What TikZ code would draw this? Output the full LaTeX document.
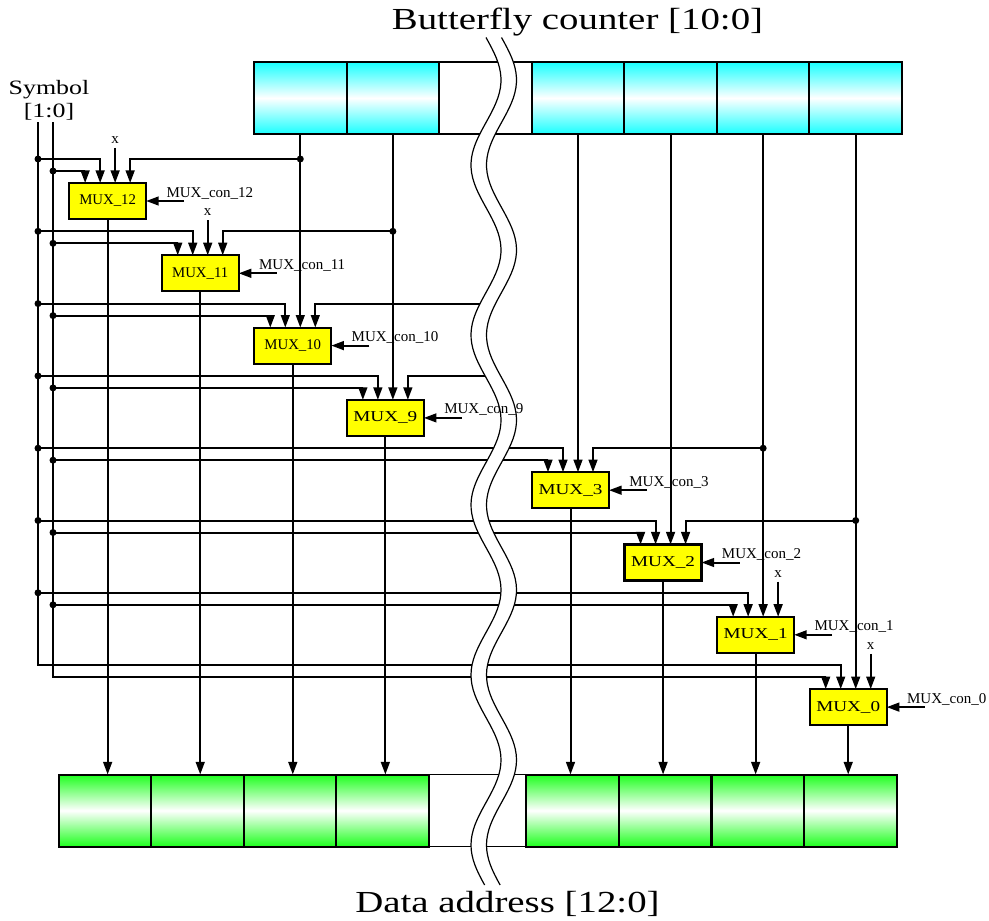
\documentclass[tikz,border=0pt]{standalone}
\usepackage{fontspec}
\setmainfont{Liberation Serif}
\newfontfamily\wideserif[FakeStretch=1.27]{Liberation Serif}
\usetikzlibrary{arrows.meta, calc}
\definecolor{regcyan}{RGB}{25,255,255}
\definecolor{reggreen}{RGB}{30,255,30}
\definecolor{muxyellow}{RGB}{255,255,0}
\tikzset{
  wire/.style={line width=1pt},
  sig/.style={wire, -{Triangle[length=6.3pt, width=4.4pt]}},
  bitcell/.style={draw, line width=1pt, minimum width=46.3pt, minimum height=36pt, inner sep=0pt, outer sep=0pt},
  cyancell/.style={bitcell, top color=regcyan, bottom color=regcyan, middle color=white},
  greencell/.style={bitcell, top color=reggreen, bottom color=reggreen, middle color=white},
  gapcell/.style={bitcell, line width=0.7pt},
  muxbox/.style={draw, line width=1.1pt, fill=muxyellow, minimum width=38.5pt, minimum height=18pt, inner sep=0pt, outer sep=0pt},
  muxsmall/.style={font=\fontsize{7.4}{9}\selectfont},
  muxwide/.style={font=\wideserif\fontsize{7.55}{9}\selectfont},
  conlabel/.style={font=\fontsize{7.5}{9}\selectfont, inner sep=0pt, anchor=base west},
  xlabel/.style={font=\fontsize{7.5}{9}\selectfont, inner sep=2pt},
  regtitle/.style={font=\wideserif\fontsize{15.3}{18}\selectfont, inner sep=0pt, anchor=base},
  breakline/.style={line width=0.6pt},
}

\begin{document}
\begin{tikzpicture}[x=0.5pt, y=-0.5pt]
  \useasboundingbox (0,0) rectangle (989,920);

  % registers
  \foreach \i/\s in {1/cyancell, 2/cyancell, 3/gapcell, 4/cyancell, 5/cyancell, 6/cyancell, 7/cyancell}
    \node[\s] (bc\i) at ({254+92.57*(\i-0.5)}, 98) {};
  \foreach \i/\cx/\s in {1/105.25/greencell, 2/197.75/greencell, 3/290.25/greencell, 4/382.75/greencell,
                         6/572.4/greencell, 7/665.1/greencell, 8/757.9/greencell, 9/850.6/greencell}
    \node[\s] (da\i) at (\cx, 810.5) {};
  \node[gapcell, minimum width=48.5pt] (da5) at (477.5, 810.5) {};

  \node[regtitle] (bctitle) at (577.5, 30) {Butterfly counter [10:0]};
  \node[regtitle] (datitle) at (507.5, 912) {Data address [12:0]};

  \node[font=\wideserif\fontsize{10.2}{11.5}\selectfont, align=center, inner sep=0pt, anchor=north]
    (sym) at (49, 80) {Symbol\\{}[1:0]};
  \coordinate (symA) at (38, 122);
  \coordinate (symB) at (53, 122);

  % multiplexers
  \foreach \n/\k/\r/\f/\d in {12/-1/0/muxsmall/1, 11/0/1/muxsmall/2, 10/1/2/muxsmall/3, 9/2/3/muxwide/4,
                              3/4/4/muxwide/6, 2/5/5/muxwide/7, 1/6/6/muxwide/8, 0/7/7/muxwide/9} {
    \pgfmathsetmacro{\cx}{254+92.57*(\k-0.5)-7.5}
    \pgfmathsetmacro{\cy}{201+72.3*\r}
    \node[muxbox, \f] (mux\n) at (\cx, \cy) {MUX\_\n};
    \coordinate (mux\n-a) at ($(mux\n.north)+(-22.5,0)$);
    \coordinate (mux\n-b) at ($(mux\n.north)+(-7.5,0)$);
    \coordinate (mux\n-c) at ($(mux\n.north)+(7.5,0)$);
    \coordinate (mux\n-d) at ($(mux\n.north)+(22.5,0)$);
    \coordinate (jA\n) at (38, \cy-42);
    \coordinate (jB\n) at (53, \cy-30);
    \ifnum\n>0
      \draw[sig] (jA\n) -| (mux\n-b);
      \draw[sig] (jB\n) -| (mux\n-a);
      \fill (jA\n) circle[radius=1.75pt];
      \fill (jB\n) circle[radius=1.75pt];
    \fi
    \coordinate (con\n) at ($(mux\n.east)+(38,0)$);
    \draw[sig] (con\n) -- (mux\n.east);
    \draw[sig] (mux\n.south) -- (mux\n.south |- da\d.north);
  }
  \draw[sig] (symA) -- (jA0) -| (mux0-b);
  \draw[sig] (symB) -- (jB0) -| (mux0-a);

  % counter bits
  \draw[sig] (bc1.south) -- (mux10-c);
  \draw[sig] (bc2.south) -- (mux9-c);
  \draw[sig] (bc4.south) -- (mux3-c);
  \draw[sig] (bc5.south) -- (mux2-c);
  \draw[sig] (bc6.south) -- (mux1-c);
  \draw[sig] (bc7.south) -- (mux0-c);
  \coordinate (tap12) at (bc1.south |- jA12);
  \coordinate (tap11) at (bc2.south |- jA11);
  \coordinate (tap3) at (bc6.south |- jA3);
  \coordinate (tap2) at (bc7.south |- jA2);
  \foreach \n in {12, 11, 3, 2} {
    \draw[sig] (tap\n) -| (mux\n-d);
    \fill (tap\n) circle[radius=1.75pt];
  }
  \foreach \n/\r in {10/2, 9/3} {
    \pgfmathsetmacro{\wy}{201+72.3*\r-42}
    \pgfmathsetmacro{\wx}{493.75+15*sin(2.117647*(\wy-37.5))}
    \coordinate (brk\n) at (\wx, \wy);
    \draw[sig] (brk\n) -| (mux\n-d);
  }

  % x inputs
  \foreach \n/\p in {12/c, 11/c, 1/d, 0/d} {
    \node[xlabel] (x\n) at ($(mux\n-\p)+(0,-43)$) {x};
    \draw[sig] (x\n) -- (mux\n-\p);
  }

  % break in the registers
  \fill[white] plot[domain=37.5:885, samples=170] ({486+15*sin(2.117647*(\x-37.5))}, \x)
    -- plot[domain=885:37.5, samples=170] ({501.5+15*sin(2.117647*(\x-37.5))}, \x) -- cycle;
  \draw[breakline] plot[domain=37.5:885, samples=170] ({486+15*sin(2.117647*(\x-37.5))}, \x);
  \draw[breakline] plot[domain=37.5:885, samples=170] ({501.5+15*sin(2.117647*(\x-37.5))}, \x);

  \foreach \n in {12, 11, 10, 9, 3, 2, 1, 0}
    \node[conlabel] (lbl\n) at ($(mux\n.east)+(20,-4)$) {MUX\_con\_\n};
\end{tikzpicture}
\end{document}
